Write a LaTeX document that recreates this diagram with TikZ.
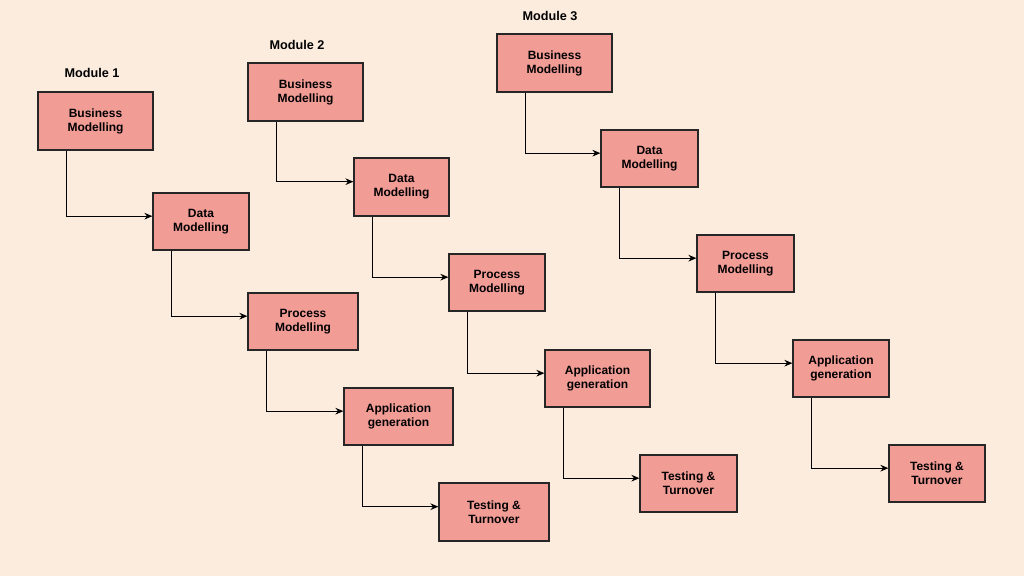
\documentclass[tikz,border=0pt]{standalone}
\usepackage{fontspec}
\setmainfont{Liberation Sans}
\usetikzlibrary{arrows.meta}
\definecolor{bg}{RGB}{252,236,222}
\definecolor{boxfill}{RGB}{242,156,150}
\begin{document}
\begin{tikzpicture}[x=0.75pt,y=-0.75pt,
  box/.style={draw=black!85,line width=0.9pt,fill=boxfill,font=\bfseries\fontsize{9}{10.5}\selectfont,align=center,inner sep=0pt},
  mlabel/.style={font=\bfseries\fontsize{9.5}{11}\selectfont},
  conn/.style={draw=black,line width=0.9pt,-{Stealth[length=6pt,width=5pt]}}]
\fill[bg] (0,0) rectangle (1024,576);
\useasboundingbox (0,0) rectangle (1024,576);
\newcommand{\bx}[6]{\node[box,minimum width={(#4-#3)*0.75pt},minimum height={(#6-#5)*0.75pt}] (#1) at ({(#3+#4)/2},{(#5+#6)/2}) {#2};}
% Module 1
\node[mlabel] (m1) at (92,73) {Module 1};
\bx{a1}{Business\\Modelling}{38}{153}{92}{150}
\bx{a2}{Data\\Modelling}{153}{249}{193}{250}
\bx{a3}{Process\\Modelling}{248}{358}{293}{350}
\bx{a4}{Application\\generation}{344}{453}{388}{445}
\bx{a5}{Testing \&\\Turnover}{439}{549}{483}{541}
% Module 2
\node[mlabel] (m2) at (297,45) {Module 2};
\bx{b1}{Business\\Modelling}{248}{363}{63}{121}
\bx{b2}{Data\\Modelling}{354}{449}{158}{216}
\bx{b3}{Process\\Modelling}{449}{545}{254}{311}
\bx{b4}{Application\\generation}{545}{650}{350}{407}
\bx{b5}{Testing \&\\Turnover}{640}{737}{455}{512}
% Module 3
\node[mlabel] (m3) at (550,16) {Module 3};
\bx{c1}{Business\\Modelling}{497}{612}{34}{92}
\bx{c2}{Data\\Modelling}{601}{698}{130}{187}
\bx{c3}{Process\\Modelling}{697}{794}{235}{292}
\bx{c4}{Application\\generation}{793}{889}{340}{397}
\bx{c5}{Testing \&\\Turnover}{889}{985}{445}{502}
% connectors
\foreach \m in {a,b,c}{
  \draw[conn] ([xshift=29*0.75pt]\m1.south west) |- ([yshift=4pt]\m2.west);
  \draw[conn] ([xshift=19*0.75pt]\m2.south west) |- ([yshift=4pt]\m3.west);
  \draw[conn] ([xshift=19*0.75pt]\m3.south west) |- ([yshift=4pt]\m4.west);
  \draw[conn] ([xshift=19*0.75pt]\m4.south west) |- ([yshift=4pt]\m5.west);
}
\end{tikzpicture}
\end{document}
